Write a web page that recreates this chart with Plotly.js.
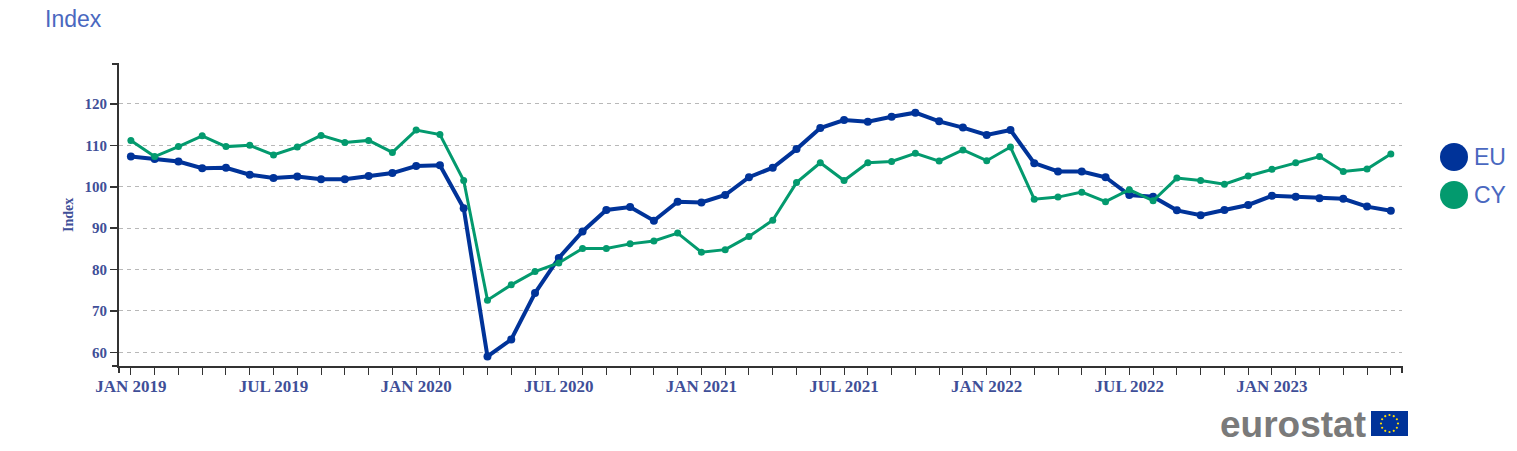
<!DOCTYPE html>
<html><head><meta charset="utf-8">
<script src="https://cdn.plot.ly/plotly-3.0.1.min.js"></script>
<style>html,body{margin:0;padding:0;background:#fff;} #chart{width:1517px;height:451px;}</style>
</head><body><div id="chart"></div>
<script>
const months = [
  'JAN 2019','FEB 2019','MAR 2019','APR 2019','MAY 2019','JUN 2019','JUL 2019','AUG 2019','SEP 2019','OCT 2019','NOV 2019','DEC 2019',
  'JAN 2020','FEB 2020','MAR 2020','APR 2020','MAY 2020','JUN 2020','JUL 2020','AUG 2020','SEP 2020','OCT 2020','NOV 2020','DEC 2020',
  'JAN 2021','FEB 2021','MAR 2021','APR 2021','MAY 2021','JUN 2021','JUL 2021','AUG 2021','SEP 2021','OCT 2021','NOV 2021','DEC 2021',
  'JAN 2022','FEB 2022','MAR 2022','APR 2022','MAY 2022','JUN 2022','JUL 2022','AUG 2022','SEP 2022','OCT 2022','NOV 2022','DEC 2022',
  'JAN 2023','FEB 2023','MAR 2023','APR 2023','MAY 2023','JUN 2023'
];
const euValues = [
  107.3,106.7,106.1,104.5,104.6,102.9,102.1,102.5,101.8,101.8,102.6,103.3,
  105.0,105.2,94.8,59.0,63.1,74.3,82.8,89.2,94.4,95.1,91.8,96.4,
  96.2,98.0,102.3,104.6,109.1,114.2,116.1,115.7,116.9,117.9,115.8,114.3,
  112.5,113.7,105.7,103.7,103.7,102.3,98.0,97.6,94.3,93.1,94.4,95.6,
  97.8,97.6,97.2,97.1,95.2,94.2
];
const cyValues = [
  111.2,107.3,109.7,112.3,109.7,110.0,107.7,109.6,112.4,110.7,111.2,108.3,
  113.7,112.6,101.5,72.6,76.3,79.5,81.6,85.1,85.1,86.2,86.9,88.8,
  84.2,84.8,88.0,91.9,101.0,105.8,101.5,105.8,106.1,108.1,106.2,108.9,
  106.3,109.6,97.0,97.5,98.7,96.4,99.3,96.6,102.1,101.5,100.6,102.6,
  104.2,105.8,107.3,103.7,104.3,107.9
];
const seriesNames = ['EU', 'CY'];
const seriesColors = ['#003399', '#039a6e'];
const yTickVals = [60, 70, 80, 90, 100, 110, 120];
const tickLabels = months.map(m => (m.startsWith('JAN') || m.startsWith('JUL')) ? m : '');

const W = 1517, H = 451, L = 119, R = 115, T = 64, B = 85;
const pw = W - L - R, ph = H - T - B;
const px = x => (x - L) / pw;
const py = y => (H - B - y) / ph;

const labelColor = '#3f4f98';
const titleColor = '#4a68c0';
const axisColor = '#333333';

const traces = [
  {x: months, y: euValues, name: seriesNames[0], type: 'scatter', mode: 'lines+markers',
   line: {color: seriesColors[0], width: 4}, marker: {color: seriesColors[0], size: 8}, hoverinfo: 'skip'},
  {x: months, y: cyValues, name: seriesNames[1], type: 'scatter', mode: 'lines+markers',
   line: {color: seriesColors[1], width: 3}, marker: {color: seriesColors[1], size: 7}, hoverinfo: 'skip'}
];

const shapes = [
  {type:'line', xref:'paper', yref:'paper', xsizemode:'pixel', xanchor:0, x0:-7, x1:0, y0:1, y1:1, line:{color:axisColor, width:2}},
  {type:'line', xref:'paper', yref:'paper', xsizemode:'pixel', xanchor:0, x0:-7, x1:0, y0:0, y1:0, line:{color:axisColor, width:2}},
  {type:'line', xref:'paper', yref:'paper', ysizemode:'pixel', yanchor:0, y0:-7, y1:0, x0:0, x1:0, line:{color:axisColor, width:2}},
  {type:'line', xref:'paper', yref:'paper', ysizemode:'pixel', yanchor:0, y0:-7, y1:0, x0:1, x1:1, line:{color:axisColor, width:2}}
];
const legendY = [157, 195];
seriesNames.forEach((n, i) => {
  shapes.push({type:'circle', xref:'paper', yref:'paper', xsizemode:'pixel', ysizemode:'pixel',
    xanchor: px(1454), yanchor: py(legendY[i]), x0:-14, x1:14, y0:-14, y1:14,
    fillcolor: seriesColors[i], line:{width:0}});
});
shapes.push({type:'rect', xref:'paper', yref:'paper', x0: px(1371), x1: px(1408), y0: py(436), y1: py(411),
  fillcolor:'#003399', line:{width:0}});
for (let i = 0; i < 12; i++) {
  const a = i * Math.PI / 6;
  const cx = 1389.5 + 8.5 * Math.cos(a), cy = 423.5 + 8.5 * Math.sin(a);
  shapes.push({type:'circle', xref:'paper', yref:'paper', xsizemode:'pixel', ysizemode:'pixel',
    xanchor: px(cx), yanchor: py(cy), x0:-1.1, x1:1.1, y0:-1.1, y1:1.1, fillcolor:'#ffdd00', line:{width:0}});
}

const annotations = [
  {text:'Index', xref:'paper', yref:'paper', x: px(68), y: py(215), textangle:-90, showarrow:false,
   xanchor:'center', yanchor:'middle', font:{family:'Liberation Serif', size:14, weight:700, color:labelColor}},
  {text:'eurostat', xref:'paper', yref:'paper', x: px(1368), y: py(424), xanchor:'right', yanchor:'middle', showarrow:false,
   font:{family:'Liberation Sans', size:37, weight:700, color:'#7a7a7a'}}
];
seriesNames.forEach((n, i) => {
  annotations.push({text:n, xref:'paper', yref:'paper', x: px(1472), y: py(legendY[i]), xanchor:'left', yanchor:'middle',
    showarrow:false, font:{family:'Liberation Sans', size:23, color:titleColor}});
});

const layout = {
  width: W, height: H,
  margin: {l: L, r: R, t: T, b: B, pad: 0},
  paper_bgcolor: '#ffffff', plot_bgcolor: '#ffffff',
  showlegend: false,
  title: {text: 'Index', xref: 'container', yref: 'container', x: 45 / W, xanchor: 'left', y: 1 - 11 / H, yanchor: 'top',
    font: {family: 'Liberation Sans', size: 23, color: titleColor}},
  xaxis: {type: 'category', range: [-0.5, 53.47], tickvals: months, ticktext: tickLabels,
    showgrid: false, zeroline: false, showline: true, linecolor: axisColor, linewidth: 1.5,
    ticks: 'outside', ticklen: 7, tickwidth: 1, tickcolor: axisColor, tickangle: 0, ticklabelstandoff: -3,
    tickfont: {family: 'Liberation Serif', size: 17, weight: 700, color: labelColor}},
  yaxis: {range: [56.69, 129.66], tickvals: yTickVals, showgrid: true, gridcolor: '#b8b8b8', griddash: '4px,4px', gridwidth: 1,
    zeroline: false, showline: true, linecolor: axisColor, linewidth: 2,
    ticks: 'outside', ticklen: 7, tickwidth: 1.5, tickcolor: axisColor,
    tickfont: {family: 'Liberation Serif', size: 15, weight: 700, color: labelColor}},
  shapes: shapes,
  annotations: annotations
};

Plotly.newPlot('chart', traces, layout, {displayModeBar: false, staticPlot: true});
</script>
</body></html>
